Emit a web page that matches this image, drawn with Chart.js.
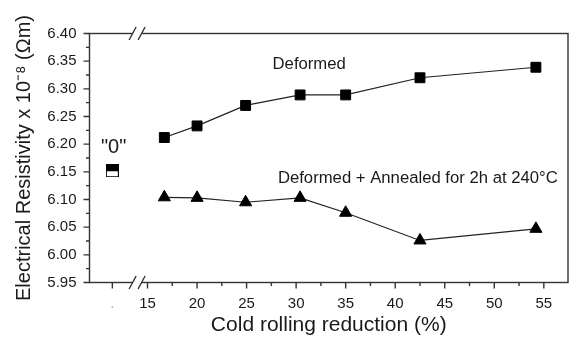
<!DOCTYPE html>
<html><head><meta charset="utf-8">
<script src="https://cdn.jsdelivr.net/npm/chart.js@4.4.1/dist/chart.umd.min.js"></script>
<style>html,body{margin:0;padding:0;background:#fff;}canvas{display:block;}</style>
</head><body>
<canvas id="c" width="576" height="342"></canvas>
<script>
// ---- data ----
const reduction = [16.7, 20, 24.9, 30.4, 35, 42.5, 54.2];
const deformed  = [6.212, 6.233, 6.270, 6.289, 6.289, 6.320, 6.339];
const annealed  = [6.104, 6.103, 6.095, 6.103, 6.076, 6.026, 6.047];
const zeroX = [11.45];
const zeroY = [6.152];
const xTickValues = [11.45, 15, 20, 25, 30, 35, 40, 45, 50, 55];
const xTickLabels = ['.', '15', '20', '25', '30', '35', '40', '45', '50', '55'];
const xMinorValues = [17.5, 22.5, 27.5, 32.5, 37.5, 42.5, 47.5, 52.5];
const yTickValues = [5.95, 6.00, 6.05, 6.10, 6.15, 6.20, 6.25, 6.30, 6.35, 6.40];
const yMinorValues = [5.975, 6.025, 6.075, 6.125, 6.175, 6.225, 6.275, 6.325, 6.375];
const xRange = [9.145, 57.44];
const yRange = [5.95, 6.40];
const xBreak = 13.95;
const noteTexts = ['Deformed', 'Deformed + Annealed for 2h at 240°C', '"0"'];
const noteX = [27.62, 28.16, 11.58];
const noteY = [6.335, 6.1293, 6.1835];

const FAM = '"Liberation Sans", Arial, Helvetica, sans-serif';
const INK = '#1a1a1a';

function splitSquare() {
  const s = 13, c = document.createElement('canvas');
  c.width = s; c.height = s;
  const g = c.getContext('2d');
  g.fillStyle = '#000'; g.fillRect(0, 0, s, s);
  g.fillStyle = '#fff'; g.fillRect(1, 7, s - 2, s - 8);
  return c;
}

const framePlugin = {
  id: 'frame',
  afterDatasetsDraw(chart) {
    const {ctx, chartArea: a, scales: {x, y}} = chart;
    ctx.save();
    ctx.strokeStyle = '#333';
    ctx.lineWidth = 1.4;
    ctx.strokeRect(a.left, a.top, a.right - a.left, a.bottom - a.top);
    ctx.beginPath();
    yTickValues.forEach(v => { const p = y.getPixelForValue(v); ctx.moveTo(a.left - 6, p); ctx.lineTo(a.left, p); });
    yMinorValues.forEach(v => { const p = y.getPixelForValue(v); ctx.moveTo(a.left - 3.5, p); ctx.lineTo(a.left, p); });
    xTickValues.forEach(v => { const p = x.getPixelForValue(v); ctx.moveTo(p, a.bottom); ctx.lineTo(p, a.bottom + 6); });
    xMinorValues.forEach(v => { const p = x.getPixelForValue(v); ctx.moveTo(p, a.bottom); ctx.lineTo(p, a.bottom + 3.5); });
    ctx.stroke();
    const bx = x.getPixelForValue(xBreak);
    [a.top, a.bottom].forEach(yy => {
      ctx.fillStyle = '#fff';
      ctx.fillRect(bx - 4.5, yy - 2, 9, 4);
      ctx.beginPath();
      [-4.5, 4.5].forEach(d => { ctx.moveTo(bx + d - 3.5, yy + 6.5); ctx.lineTo(bx + d + 3.5, yy - 6.5); });
      ctx.stroke();
    });
    // annotations
    ctx.fillStyle = INK;
    ctx.textBaseline = 'alphabetic';
    noteTexts.forEach((t, i) => {
      const size = i === 2 ? 20 : 16.7;
      ctx.font = size + 'px ' + FAM;
      ctx.textAlign = i === 2 ? 'center' : 'left';
      ctx.fillText(t, x.getPixelForValue(noteX[i]), y.getPixelForValue(noteY[i]));
    });
    ctx.restore();
  }
};

const lineStyle = {borderColor: '#222', borderWidth: 1.2, pointBackgroundColor: '#000', pointBorderColor: '#000', pointBorderWidth: 1, showLine: true, tension: 0};

new Chart(document.getElementById('c'), {
  type: 'scatter',
  data: {
    datasets: [
      Object.assign({label: 'Deformed', data: reduction.map((v, i) => ({x: v, y: deformed[i]})), pointStyle: 'rect', pointRadius: 7}, lineStyle),
      Object.assign({label: 'Deformed + Annealed', data: reduction.map((v, i) => ({x: v, y: annealed[i]})), pointStyle: 'triangle', pointRadius: 7}, lineStyle),
      {label: '"0"', data: zeroX.map((v, i) => ({x: v, y: zeroY[i]})), pointStyle: splitSquare(), pointRadius: 7, showLine: false}
    ]
  },
  options: {
    responsive: false,
    animation: false,
    devicePixelRatio: 1,
    layout: {padding: {top: 33.5, right: 1.5, left: 0, bottom: 0}},
    plugins: {legend: {display: false}, tooltip: {enabled: false}},
    scales: {
      x: {
        type: 'linear', min: xRange[0], max: xRange[1],
        grid: {display: false, drawTicks: false, tickLength: 0},
        border: {display: false},
        afterBuildTicks: s => { s.ticks = xTickValues.map(v => ({value: v})); },
        ticks: {autoSkip: false, maxRotation: 0, padding: 12, font: {size: 15, family: FAM},
                color: c => (c.index === 0 ? '#aaa' : INK),
                callback: (v, i) => xTickLabels[i]},
        title: {display: true, text: 'Cold rolling reduction (%)', color: INK, font: {size: 21, family: FAM}, padding: {top: 0, bottom: 4}},
        afterFit: s => { s.height = 59.5; }
      },
      y: {
        type: 'linear', min: yRange[0], max: yRange[1],
        grid: {display: false, drawTicks: false, tickLength: 0},
        border: {display: false},
        afterBuildTicks: s => { s.ticks = yTickValues.map(v => ({value: v})); },
        ticks: {padding: 13, font: {size: 15, family: FAM}, color: INK, callback: v => Number(v).toFixed(2)},
        title: {display: true, text: 'Electrical Resistivity x 10⁻⁸ (Ωm)', color: INK, font: {size: 20, family: FAM}, padding: {top: 12, bottom: 0}},
        afterFit: s => { s.width = 89.5; }
      }
    }
  },
  plugins: [framePlugin]
});
</script>
</body></html>
